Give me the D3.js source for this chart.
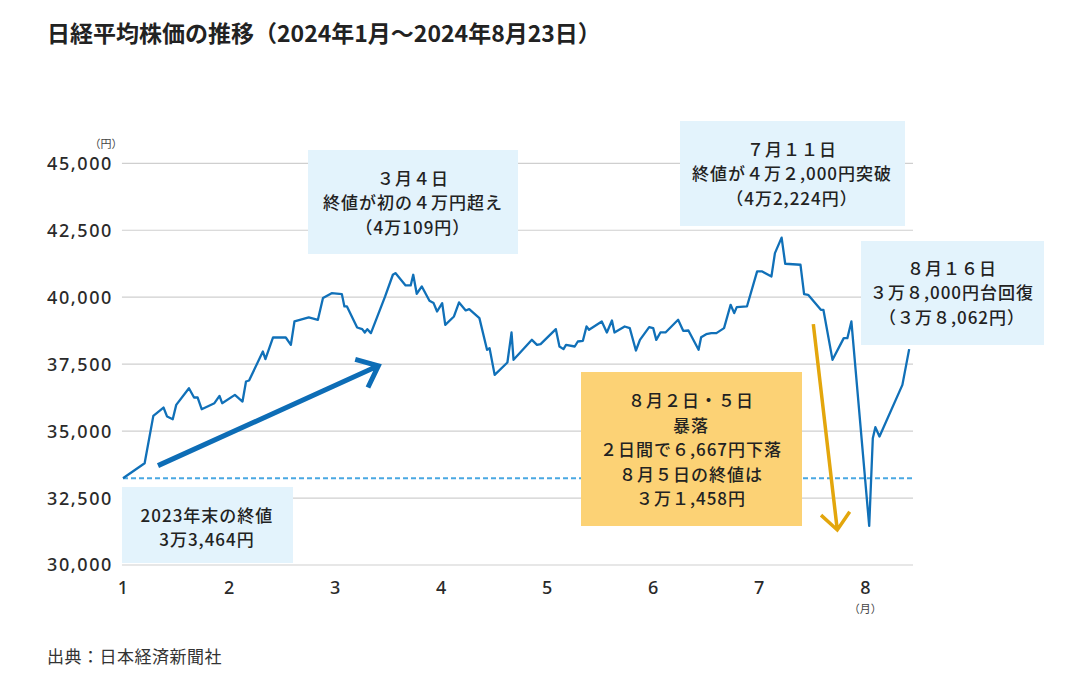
<!DOCTYPE html>
<html><head><meta charset="utf-8">
<script src="https://cdn.jsdelivr.net/npm/d3@7"></script>
<style>
html,body{margin:0;padding:0;background:#fff;}
svg{display:block;}
text{font-family:"Noto Sans CJK JP","Noto Sans",sans-serif;}
</style></head>
<body>
<script>
// ---- data (month position, closing price) ----
const monthPos = [1.0,1.204,1.286,1.382,1.416,1.469,1.502,1.622,1.670,1.704,1.742,1.862,1.910,1.935,2.055,2.127,2.160,2.189,2.319,2.343,2.415,2.535,2.583,2.617,2.752,2.838,2.886,2.968,3.064,3.088,3.112,3.208,3.256,3.280,3.304,3.338,3.472,3.545,3.569,3.665,3.713,3.737,3.770,3.818,3.890,3.929,3.962,4.010,4.039,4.121,4.169,4.232,4.265,4.361,4.433,4.457,4.505,4.625,4.664,4.683,4.856,4.904,4.938,5.082,5.116,5.154,5.178,5.260,5.289,5.337,5.371,5.395,5.515,5.563,5.611,5.635,5.731,5.779,5.837,5.875,5.962,6.000,6.029,6.068,6.116,6.235,6.283,6.332,6.428,6.452,6.500,6.548,6.596,6.668,6.730,6.764,6.788,6.884,6.980,7.028,7.115,7.148,7.211,7.245,7.389,7.423,7.461,7.581,7.605,7.691,7.797,7.831,7.869,8.037,8.071,8.095,8.134,8.350,8.414];
const closeValues = [33240,33800,35570,35880,35543,35444,35979,36602,36254,36254,35817,36042,36316,36042,36353,36104,36851,36889,37972,37686,38496,38496,38222,39094,39243,39156,39966,40152,40115,39654,39654,38869,38807,38683,38807,38658,40028,40838,40900,40439,40439,40838,40128,40402,39866,39779,39467,39779,38969,39280,39804,39505,39555,39218,38035,38097,37100,37561,38683,37661,38408,38222,38247,38807,38159,38060,38222,38159,38346,38371,38907,38782,39094,38683,39131,38683,38907,38845,38010,38408,38882,38845,38408,38683,38683,39156,38745,38757,38035,38508,38620,38658,38658,38845,39716,39405,39629,39654,40962,40962,40775,41647,42224,41249,41211,40115,40090,39530,39530,37661,38471,38471,39094,31458,34734,35145,34796,36727,38062];
const monthTicks = [1,2,3,4,5,6,7,8];
const yTicks = [30000,32500,35000,37500,40000,42500,45000];
const refLevel = 33240; // 2023年末終値ライン（図上の位置）
const blueArrow = {from:[1.330,33711], to:[3.408,37437]};
const goldArrow = {from:[7.510,38995], to:[7.736,31308]};

const title = "日経平均株価の推移（2024年1月～2024年8月23日）";
const source = "出典：日本経済新聞社";
const notes = [
  {lines:["2023年末の終値","3万3,464円"], box:[122,487,171,76], cx:207, cy:528, fill:"#e3f3fc"},
  {lines:["３月４日","終値が初の４万円超え","（4万109円）"], box:[308,150,210,104], cx:413, cy:203, fill:"#e3f3fc"},
  {lines:["７月１１日","終値が４万２,000円突破","（4万2,224円）"], box:[680,121,225,105], cx:792, cy:174, fill:"#e3f3fc"},
  {lines:["８月１６日","３万８,000円台回復","（３万８,062円）"], box:[861,241,183,104], cx:952, cy:293, fill:"#e3f3fc"},
  {lines:["８月２日・５日","暴落","２日間で６,667円下落","８月５日の終値は","３万１,458円"], box:[581,372,221,154], cx:691, cy:450, fill:"#fcd275"}
];

const W=1092,H=685;
const svg=d3.select("body").append("svg").attr("width",W).attr("height",H);
const x=d3.scaleLinear().domain([1,8.45]).range([123,913]);
const y=d3.scaleLinear().domain([30000,45000]).range([565,163.3]);

svg.append("text").attr("x",47).attr("y",42).attr("font-size",23).attr("font-weight",700)
  .attr("fill","#222").text(title);

// gridlines
svg.append("g").selectAll("line").data(yTicks).join("line")
  .attr("x1",x(0.99)).attr("x2",x(8.45)).attr("y1",d=>y(d)).attr("y2",d=>y(d))
  .attr("stroke","#cfcfcf").attr("stroke-width",1.2);
svg.append("g").selectAll("text").data(yTicks).join("text")
  .attr("x",113).attr("y",d=>y(d)).attr("dy","0.36em").attr("text-anchor","end")
  .attr("font-size",18).attr("font-weight",500).attr("letter-spacing","1.6px").attr("fill","#2a2a2a").style("font-family","'Noto Sans',sans-serif")
  .text(d=>d3.format(",")(d));
svg.append("text").attr("x",106).attr("y",148).attr("text-anchor","middle").attr("font-size",11).attr("fill","#444").text("（円）");
svg.append("g").selectAll("text").data(monthTicks).join("text")
  .attr("x",d=>x(d)).attr("y",594).attr("text-anchor","middle").attr("font-size",18).attr("font-weight",500).attr("fill","#2a2a2a")
  .style("font-family","'Noto Sans',sans-serif").text(d=>d);
svg.append("text").attr("x",x(8)).attr("y",613).attr("text-anchor","middle").attr("font-size",11).attr("fill","#444").text("（月）");

// reference dashed line
svg.append("line").attr("x1",x(1)).attr("x2",x(8.45)).attr("y1",y(refLevel)).attr("y2",y(refLevel))
  .attr("stroke","#4aa8e2").attr("stroke-width",2).attr("stroke-dasharray","5,3");

// price line
const pts=monthPos.map((m,i)=>[m,closeValues[i]]);
svg.append("path").datum(pts).attr("fill","none").attr("stroke","#1070b8").attr("stroke-width",2.3)
  .attr("stroke-linejoin","round").attr("d",d3.line().x(d=>x(d[0])).y(d=>y(d[1])));

// annotation boxes
const g=svg.append("g");
notes.forEach(n=>{
  g.append("rect").attr("x",n.box[0]).attr("y",n.box[1]).attr("width",n.box[2]).attr("height",n.box[3]).attr("fill",n.fill);
  const lh=24.6, y0=n.cy-(n.lines.length-1)*lh/2;
  n.lines.forEach((t,i)=>{
    g.append("text").attr("x",n.cx).attr("y",y0+i*lh).attr("dy","0.36em").attr("text-anchor","middle")
      .attr("font-size",17).attr("font-weight",500).attr("letter-spacing","1px").attr("fill","#222").text(t);
  });
});

// arrows
function arrow(a,color,w,len,ang){
  const x1=x(a.from[0]),y1=y(a.from[1]),x2=x(a.to[0]),y2=y(a.to[1]);
  const th=Math.atan2(y1-y2,x1-x2), r=ang*Math.PI/180;
  const p=d3.path();
  p.moveTo(x1,y1);p.lineTo(x2,y2);
  p.moveTo(x2+len*Math.cos(th+r),y2+len*Math.sin(th+r));p.lineTo(x2,y2);
  p.lineTo(x2+len*Math.cos(th-r),y2+len*Math.sin(th-r));
  svg.append("path").attr("d",p.toString()).attr("fill","none").attr("stroke",color).attr("stroke-width",w)
    .attr("stroke-linecap","butt").attr("stroke-linejoin","miter");
}
arrow(blueArrow,"#0d6db6",5,24,40);
arrow(goldArrow,"#e3a60c",3.5,22,41);

svg.append("text").attr("x",47).attr("y",663).attr("font-size",17).attr("letter-spacing","0.5px").attr("fill","#333").text(source);
</script>
</body></html>
